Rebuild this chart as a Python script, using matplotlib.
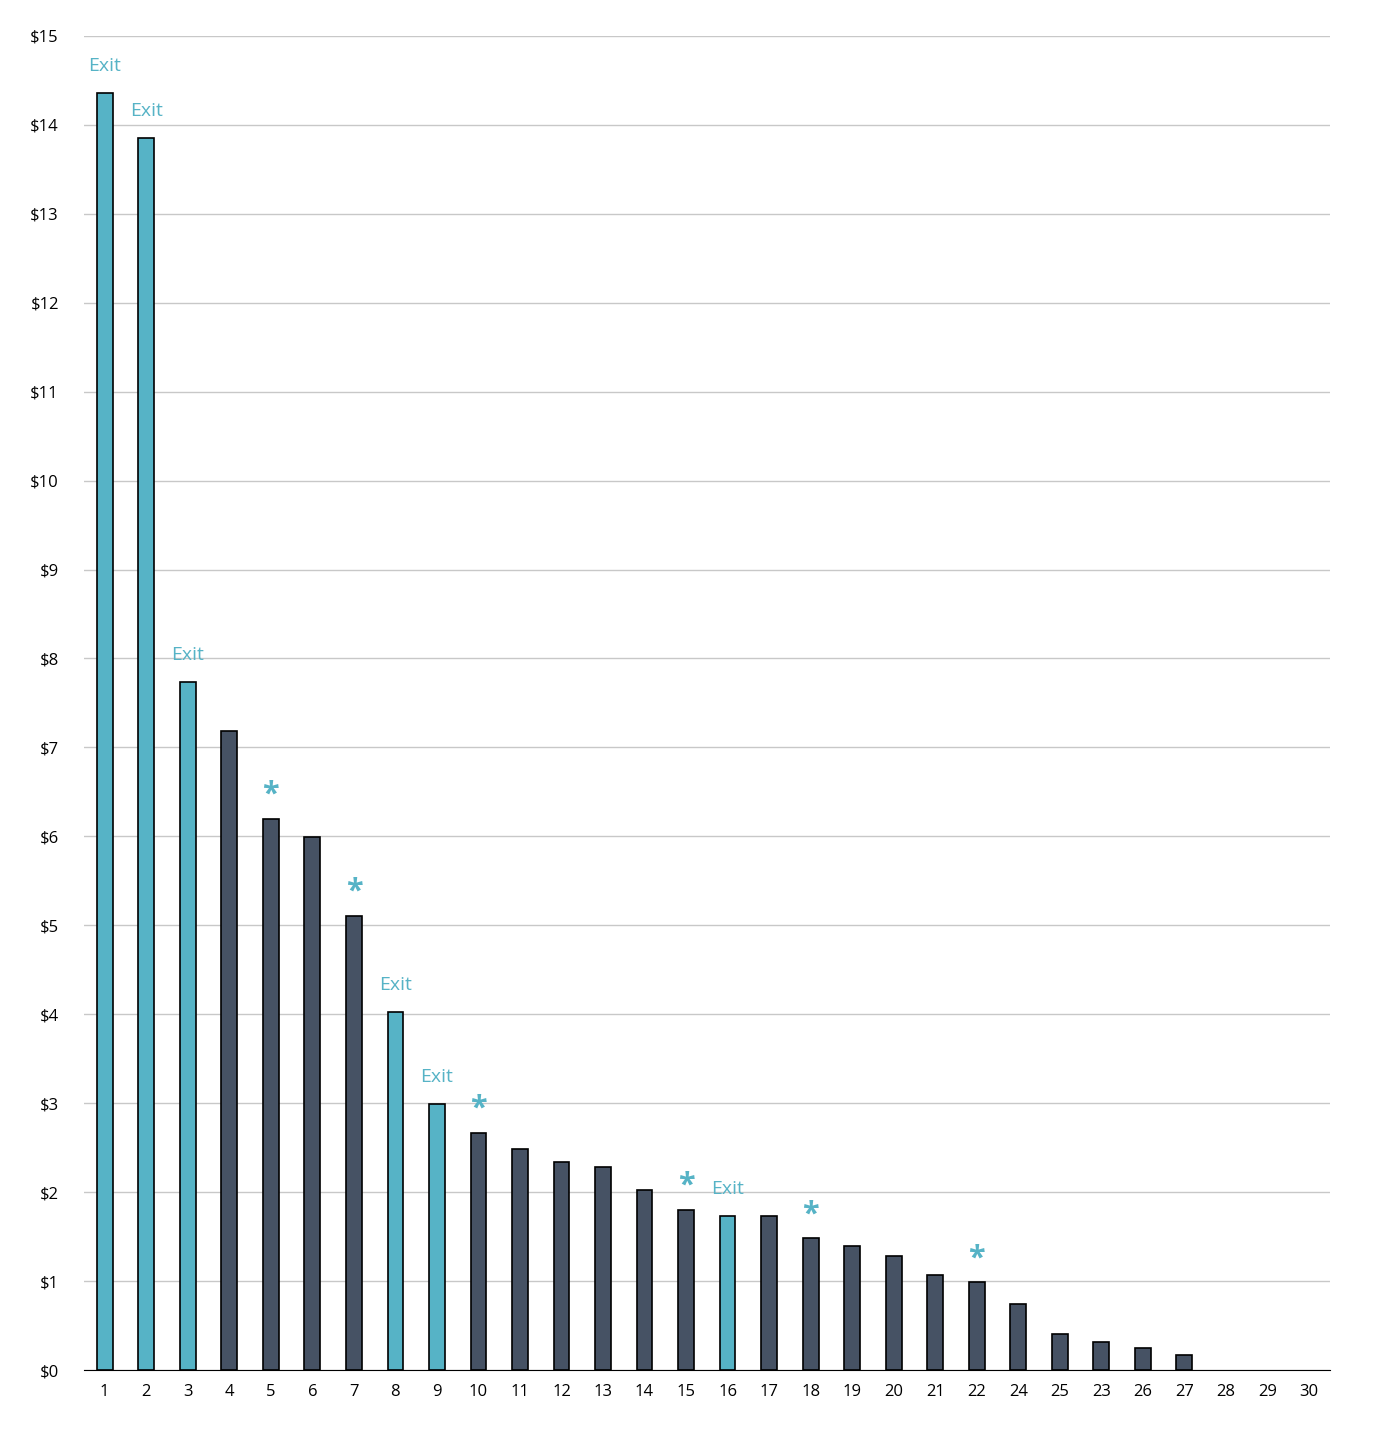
import numpy as np
from matplotlib import pyplot as plt

plt.rcParams["font.family"] = "Open Sans"

# data
labels = ["1", "2", "3", "4", "5", "6", "7", "8", "9", "10", "11", "12", "13", "14", "15",
          "16", "17", "18", "19", "20", "21", "22", "24", "25", "23", "26", "27", "28", "29", "30"]
values = [14.36, 13.85, 7.74, 7.18, 6.20, 5.99, 5.11, 4.03, 2.99, 2.67, 2.48, 2.34, 2.28, 2.02, 1.80,
          1.73, 1.73, 1.48, 1.40, 1.28, 1.07, 0.99, 0.74, 0.40, 0.31, 0.25, 0.17, 0, 0, 0]
exits = ["1", "2", "3", "8", "9", "16"]
stars = ["5", "7", "10", "15", "18", "22"]

teal = "#56B3C6"
dark = "#465264"

fig = plt.figure(figsize=(13.88, 14.34), dpi=100)
ax = fig.add_axes([0.0605, 0.0446, 0.8975, 0.9304])

x = np.arange(len(labels))
colors = [teal if l in exits else dark for l in labels]
bars = ax.bar(x, values, width=0.38, color=colors, edgecolor="black", linewidth=1.2, zorder=3)
for b, l, v in zip(bars, labels, values):
    if v == 0:
        b.set_visible(False)
    if l in exits:
        ax.text(b.get_x() + b.get_width() / 2, v + 0.2, "Exit", color=teal,
                ha="center", va="bottom", fontsize=14)
    if l in stars:
        ax.text(b.get_x() + b.get_width() / 2, v + 0.1, "*", color=teal,
                ha="center", va="bottom", fontsize=22, fontweight="bold")

ax.set_xlim(-0.5, len(labels) - 0.5)
ax.set_ylim(0, 15)
ax.set_yticks(range(0, 16))
ax.set_yticklabels(["$%d" % v for v in range(0, 16)], fontsize=12)
ax.set_xticks(x)
ax.set_xticklabels(labels, fontsize=12)
ax.grid(axis="y", color="#c8c8c8", linewidth=1, zorder=0)
for s in ["top", "right", "left"]:
    ax.spines[s].set_visible(False)
ax.spines["bottom"].set_color("black")
ax.tick_params(length=0, pad=10)
ax.tick_params(axis="y", pad=18)

fig.savefig("out.png", dpi=100)
